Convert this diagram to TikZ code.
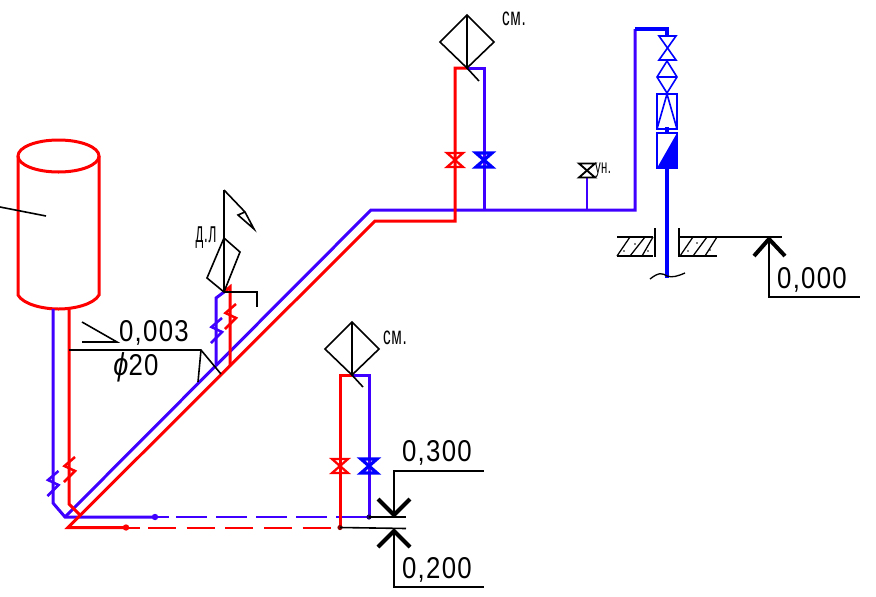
\documentclass[tikz,border=0pt]{standalone}
\usepackage{graphicx}
\usepackage{fontspec}
\setmainfont{Liberation Sans}
\definecolor{pipered}{HTML}{FF0000}
\definecolor{pipeblue}{HTML}{4000FF}
\definecolor{towerblue}{HTML}{0000FF}
\newcommand\valvemark[4]{\draw[#3,line width=#4,line join=miter] (#1-8,#2-7) -- (#1+8,#2-7) -- (#1-8,#2+7) -- (#1+8,#2+7) -- cycle;}
\newcommand\breakmark[3]{\draw[#3,line width=1.9pt,line join=miter] (#1+5.5,#2-13) -- (#1-5,#2-4) -- (#1+5.5,#2+1) -- (#1-5.5,#2+12);}
\newcommand\dimtext[1]{\scalebox{0.9}[1.05]{\fontsize{21.5}{22}\selectfont\addfontfeatures{LetterSpace=5}#1}}
\newcommand\smalltext[1]{\scalebox{0.74}[1.22]{\fontsize{15.5}{16}\selectfont\addfontfeatures{LetterSpace=5}#1}}
\begin{document}
\begin{tikzpicture}[x=0.75pt,y=-0.75pt,
  redpipe/.style={draw=pipered,line width=2.25pt,line join=miter},
  bluepipe/.style={draw=pipeblue,line width=2.25pt,line join=miter},
  tower/.style={draw=towerblue,line width=1.2pt},
  ink/.style={draw=black,line width=1.2pt},
  arrowarm/.style={draw=black,line width=3pt,line join=miter},
  label/.style={inner sep=0pt,outer sep=0pt,anchor=center,text=black}]
\useasboundingbox (0,0) rectangle (876,597);
\fill[white] (0,0) rectangle (876,597);

% named junctions
\coordinate (blueTank) at (53,309);
\coordinate (redTank) at (69,308);
\coordinate (blueCorner) at (65,517);
\coordinate (blueDot) at (155,517);
\coordinate (blueEnd) at (369,517);
\coordinate (redCorner) at (68,527.5);
\coordinate (redDot) at (126,527.5);
\coordinate (redEnd) at (340,527.5);
\coordinate (blueBend) at (371,210);
\coordinate (redBend) at (375,221);
\coordinate (lowFix) at (352,375);
\coordinate (highFix) at (467,68);
\coordinate (branchFix) at (224,292);

% tank
\draw[redpipe] (58.5,156) ellipse [x radius=40.5,y radius=16];
\draw[redpipe] (18,156) -- (18,295) .. controls (23,304) and (42,309) .. (58.5,309) .. controls (75,309) and (94,304) .. (99,295) -- (99,156);
\draw[ink] (0,207) -- (46,216);

% main blue line
\draw[bluepipe] (blueTank) -- (53,503) -- (blueCorner) -- (blueDot);
\draw[bluepipe] (blueCorner) -- (blueBend) -- (635,210) -- (635,29);
\draw[bluepipe,line width=1.5pt,dash pattern=on 23 off 7] (176,517) -- (blueEnd);
\draw[bluepipe,line width=1.5pt] (blueDot) -- ++(14,0);
\fill[pipeblue] (blueDot) circle (3.2);
% main red line
\draw[redpipe] (redTank) -- (69,504) -- (80,515);
\draw[redpipe] (redDot) -- (redCorner) -- (redBend) -- (455,221) -- (455,68) -- (highFix);
\draw[redpipe,line width=1.5pt] (redDot) -- ++(14,0);
\draw[redpipe,line width=1.5pt,dash pattern=on 21 off 8] (148,527.5) -- (redEnd);
\fill[pipered] (redDot) circle (3.2);
\breakmark{69.5}{470}{pipered}
\breakmark{53}{484}{pipeblue}

% upper risers
\draw[bluepipe] (484,210) -- (484,68) -- (highFix);
\valvemark{455}{160}{pipered}{1.7pt}
\valvemark{484}{160}{towerblue}{2.4pt}
\draw[ink] (467,15) -- (494,42) -- (467,68) -- (440,42) -- cycle;
\draw[ink] (467,15) -- (highFix) -- (479,81);
\node[label] (sm1) at (514,19) {\smalltext{см.}};

% lower risers
\draw[redpipe] (redEnd) -- (340,375) -- (lowFix);
\draw[bluepipe] (blueEnd) -- (369,375) -- (lowFix);
\valvemark{340}{466}{pipered}{1.7pt}
\valvemark{369}{466}{towerblue}{2.4pt}
\fill[black!60!pipeblue] (blueEnd) circle (2.6);
\fill[black!45!pipered] (redEnd) circle (2.6);
\draw[ink] (352,322) -- (379,349) -- (352,375) -- (325,349) -- cycle;
\draw[ink] (352,322) -- (lowFix) -- (363,387);
\node[label] (sm2) at (395,338) {\smalltext{см.}};

% branch to the d.l fixture
\draw[bluepipe] (216,364) -- (216,298) -- (branchFix);
\draw[redpipe] (230,366) -- (230,287) -- (branchFix);
\breakmark{216.5}{331}{pipeblue}
\breakmark{230.5}{317}{pipered}
\draw[ink] (branchFix) -- (257,292) -- (257,307);
\draw[ink] (224,238) -- (240,252) -- (branchFix) -- (207,278) -- cycle;
\draw[ink] (224,190) -- (branchFix);
\draw[ink] (224,190) -- (245,212) -- (254,229) -- (238,215) -- (245,212);
\node[label] (dl) at (206,238) {\scalebox{0.62}[1.4]{\fontsize{16}{16}\selectfont\addfontfeatures{LetterSpace=6}д.л}};

% slope and diameter
\draw[ink] (82,322) -- (117,342) -- (82,342);
\node[label] (slope) at (154,333) {\dimtext{0,003}};
\draw[ink] (redTank |- 0,350) -- (201,350) -- (221,374);
\draw[ink] (201,350) -- (198,382);
\node[label] (dia) at (136,367) {\dimtext{\scalebox{1.05}{\itshape ϕ}20}};

% small valve on the line
\draw[draw=pipeblue,line width=2pt] (587,210) -- (587,178);
\valvemark{587}{170.5}{black}{1.4pt}
\node[label] (un) at (603,170) {\scalebox{0.68}[1.2]{\fontsize{12.5}{13}\selectfont\addfontfeatures{LetterSpace=4}ун.}};

% tower
\draw[draw=towerblue,line width=2.7pt,line join=miter] (635,29) -- (667,29) -- (667,36);
\draw[tower] (659,36) -- (676,36) -- (659,60) -- (676,60) -- cycle;
\draw[tower] (667,61) -- (677,77) -- (667,93) -- (657,77) -- cycle;
\draw[tower] (657,77) -- (677,77);
\draw[tower] (657,94) rectangle (677,129);
\draw[tower] (657,129) -- (667,94) -- (677,129);
\draw[draw=towerblue,line width=2.7pt] (667,127) -- (667,134);
\draw[tower] (657,133) rectangle (677,168);
\fill[towerblue] (677,133) -- (677,168) -- (657,168) -- cycle;
\draw[draw=towerblue,line width=3pt] (667,168) -- (667,278);
\draw[ink,line width=1pt] (650,279) .. controls (659,272) and (662,273) .. (667,276) .. controls (672,278) and (678,276) .. (685,273);

% floor
\draw[ink,line width=1.5pt] (617,237) -- (653,237) (617,256) -- (653,256);
\draw[ink,line width=1.5pt] (679,237) -- (718,237) (679,256) -- (717,256);
\foreach \a/\b in {617/630,630/645,642/653}{\draw[draw=black,line width=.95pt] (\a,256) -- (\b,237);}
\foreach \a/\b in {680/693,693/707,705/717}{\draw[draw=black,line width=.95pt] (\a,256) -- (\b,237);}
\foreach \a/\b in {624/251,635/244,648/251,688/251,697/243,710/250}{\fill (\a,\b) circle (.9);}
\draw[draw=black,line width=2.2pt] (655,228) -- (655,257);
\draw[draw=black,line width=2.2pt] (679,228) -- (679,257);

% elevation 0,000
\coordinate (mark0) at (769,237);
\draw[ink] (718,237) -- (782,237);
\draw[arrowarm] (754,256) -- (769,239) -- (785,256);
\draw[ink] (mark0) -- (769,297) -- (860,297);
\node[label] (e0) at (812,280) {\dimtext{0,000}};

% elevation 0,300
\coordinate (mark3) at (394,517);
\draw[ink] (blueEnd) -- (406,517);
\draw[arrowarm] (378,499) -- (394,515) -- (410,499);
\draw[ink] (mark3) -- (394,471) -- (484,471);
\node[label] (e3) at (437,453) {\dimtext{0,300}};

% elevation 0,200
\coordinate (mark2) at (394,528.5);
\draw[ink] (redEnd) -- (406,528.5);
\draw[arrowarm] (378,547) -- (394,531) -- (410,547);
\draw[ink] (mark2) -- (394,587) -- (484,587);
\node[label] (e2) at (437,570) {\dimtext{0,200}};
\end{tikzpicture}
\end{document}
